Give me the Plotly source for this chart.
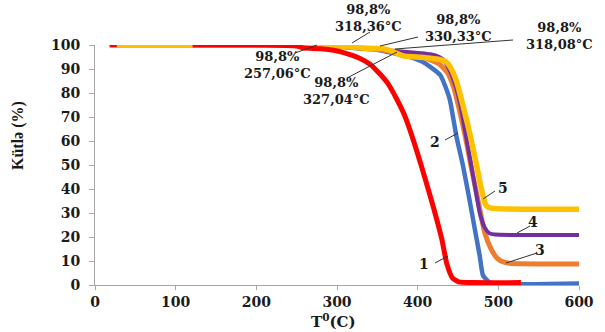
import plotly.graph_objects as go

# ---- data ----
t1 = [18, 27, None, 121, 200, 250, 258, 280, 300, 316, 328, 341, 353, 363, 374, 384, 394, 406, 419, 430, 436, 443, 451, 470, 528]
m1 = [100, 100, None, 100, 100, 99.6, 98.8, 98.4, 97.5, 96, 94.5, 92, 88, 84, 77.5, 70.5, 61, 48, 33, 19, 9, 3, 1.3, 1, 1]

t2 = [27, 250, 300, 318, 341, 353, 371, 391, 406, 416, 428, 434, 440, 448, 456, 464, 471, 477, 481, 490, 600]
m2 = [100, 100, 99.5, 98.8, 98.3, 97.8, 96.5, 95, 93, 90.8, 87.5, 83, 77, 62, 50, 36, 23, 12, 4, 1, 0.6]

t3 = [27, 250, 300, 327, 350, 370, 390, 410, 427, 437, 445, 451, 459, 467, 475, 483, 491, 499, 507, 516, 600]
m3 = [100, 100, 99.5, 98.8, 98.2, 97.2, 96, 94.5, 92, 88.5, 82, 74, 62, 48, 35, 22, 15, 11, 9.5, 9, 8.8]

t4 = [27, 250, 300, 318, 350, 370, 390, 410, 421, 431, 439, 447, 453, 461, 469, 477, 483, 489, 496, 600]
m4 = [100, 100, 99.6, 98.8, 98.3, 97.6, 97, 96.4, 95.8, 94.2, 90, 83, 75, 60, 45, 30, 24, 21.5, 21, 20.8]

t5 = [27, 250, 300, 330, 351, 363, 371, 382, 399, 416, 427, 435, 440, 448, 456, 464, 473, 479, 485, 491, 600]
m5 = [100, 100, 99.6, 98.8, 98.5, 98, 97, 95.5, 95, 94.5, 94, 93, 91, 85, 75, 64, 50, 40, 33, 32, 31.6]

x_ticks = [0, 100, 200, 300, 400, 500, 600]
y_ticks = [0, 10, 20, 30, 40, 50, 60, 70, 80, 90, 100]

point_labels = [
    ("98,8%", "318,36°C"),
    ("98,8%", "330,33°C"),
    ("98,8%", "318,08°C"),
    ("98,8%", "257,06°C"),
    ("98,8%", "327,04°C"),
]
curve_labels = ["1", "2", "3", "4", "5"]

# ---- layout geometry (pixels) ----
W, H = 605, 332
L, R, T, B = 95, 26, 45, 47
PW, PH = W - L - R, H - T - B


def P(px, py):
    return (px - L) / PW, (H - B - py) / PH


SERIF = "DejaVu Serif"
fig = go.Figure()

series = [
    (t2, m2, "#4472C4", 4.5),
    (t3, m3, "#ED7D31", 5),
    (t4, m4, "#7030A0", 4),
    (t5, m5, "#FFC000", 5.5),
    (t1, m1, "#FF0000", 5),
]
for tx, my, col, w in series:
    fig.add_trace(go.Scatter(x=tx, y=my, mode="lines",
                             line=dict(color=col, width=w, shape="spline", smoothing=0.5),
                             hoverinfo="skip", showlegend=False))

annotations = []
shapes = []

# point annotations: (center x, center y), leader (x0,y0,x1,y1)
pt_pos = [
    (368, 18, (370, 32, 352, 43)),
    (458, 28, (418, 37, 380, 46)),
    (559, 36, (513, 40, 395, 49)),
    (277, 65, (295, 53, 317, 45)),
    (336, 91, (347, 78, 397, 52)),
]
for (l1, l2), (cx, cy, ld) in zip(point_labels, pt_pos):
    px_, py_ = P(cx, cy)
    annotations.append(dict(x=px_, y=py_, xref="paper", yref="paper", text=l1 + "<br>" + l2,
                            showarrow=False, xanchor="center", yanchor="middle",
                            font=dict(family=SERIF, size=13, color="#1a1a1a", weight="bold")))
    x0, y0 = P(ld[0], ld[1])
    x1, y1_ = P(ld[2], ld[3])
    shapes.append(dict(type="line", xref="paper", yref="paper", x0=x0, y0=y0, x1=x1, y1=y1_,
                       line=dict(color="#333333", width=1)))

cl_pos = [
    (424, 264, (435, 263, 448, 256)),
    (435, 142, (445, 140, 458, 133)),
    (540, 250, (537, 253, 506, 263)),
    (533, 222, (530, 226, 517, 233)),
    (503, 188, (495, 191, 483, 199)),
]
for txt, (cx, cy, ld) in zip(curve_labels, cl_pos):
    px_, py_ = P(cx, cy)
    annotations.append(dict(x=px_, y=py_, xref="paper", yref="paper", text=txt,
                            showarrow=False, xanchor="center", yanchor="middle",
                            font=dict(family=SERIF, size=14, color="#1a1a1a", weight="bold")))
    x0, y0 = P(ld[0], ld[1])
    x1, y1_ = P(ld[2], ld[3])
    shapes.append(dict(type="line", xref="paper", yref="paper", x0=x0, y0=y0, x1=x1, y1=y1_,
                       line=dict(color="#333333", width=1)))

# axis titles
px_, py_ = P(333, 321)
annotations.append(dict(x=px_, y=py_, xref="paper", yref="paper", text="T<sup>0</sup>(C)",
                        showarrow=False, xanchor="center", yanchor="middle",
                        font=dict(family=SERIF, size=15, color="#1a1a1a", weight="bold")))
px_, py_ = P(18, 136)
annotations.append(dict(x=px_, y=py_, xref="paper", yref="paper", text="Kütlə (%)",
                        showarrow=False, xanchor="center", yanchor="middle", textangle=-90,
                        font=dict(family="Liberation Serif", size=16, color="#1a1a1a", weight="bold")))

tickfont = dict(family=SERIF, size=14, color="#1a1a1a", weight="bold")
fig.update_layout(
    width=W, height=H,
    margin=dict(l=L, r=R, t=T, b=B, pad=0),
    paper_bgcolor="white", plot_bgcolor="white",
    annotations=annotations, shapes=shapes,
    xaxis=dict(range=[0, 600], tickvals=x_ticks, ticktext=[str(v) for v in x_ticks],
               showgrid=False, zeroline=False, showline=True, linecolor="#A6A6A6", linewidth=1,
               ticks="outside", ticklen=4, tickcolor="#A6A6A6", tickfont=tickfont),
    yaxis=dict(range=[0, 100], tickvals=y_ticks, ticktext=[str(v) for v in y_ticks],
               showgrid=False, zeroline=False, showline=True, linecolor="#A6A6A6", linewidth=1,
               ticks="outside", ticklen=5, tickcolor="#A6A6A6", tickfont=tickfont,
               ticklabelstandoff=6),
)

fig.write_html("out.html")
